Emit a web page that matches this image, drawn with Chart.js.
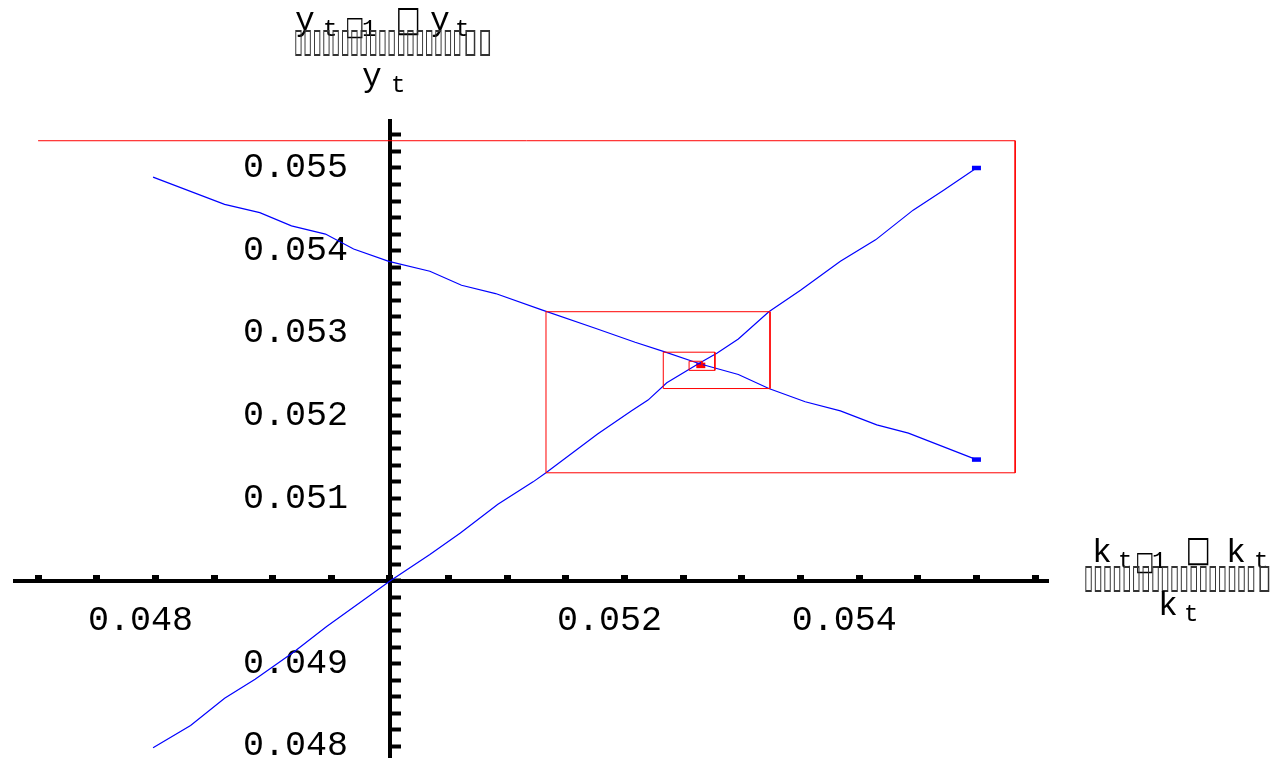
<!DOCTYPE html>
<html lang="en">
<head>
<meta charset="UTF-8">
<title>cobweb</title>
<script src="https://cdn.jsdelivr.net/npm/chart.js@4.4.1/dist/chart.umd.min.js"></script>
<style>
    html, body { margin: 0; padding: 0; background: #fff; }
    canvas { display: block; }
</style>
</head>
<body>
<canvas id="canvas" width="1271" height="767"></canvas>
<script>
// rising branch, k against y
var upK = [0.04798, 0.04830, 0.04859, 0.04885, 0.04918, 0.04946, 0.05000, 0.05034, 0.05060, 0.05092, 0.05122, 0.05133, 0.05177,
    0.05206, 0.05220, 0.05236, 0.05264, 0.05279, 0.05297, 0.05323, 0.05350, 0.05384, 0.05414, 0.05446, 0.05472, 0.05500];
var upY = [0.04798, 0.04825, 0.04858, 0.04881, 0.04914, 0.04945, 0.05000, 0.05032, 0.05058, 0.05093, 0.05120, 0.05131, 0.05178,
    0.05206, 0.05219, 0.05240, 0.05264, 0.05276, 0.05293, 0.05326, 0.05352, 0.05387, 0.05413, 0.05449, 0.05473, 0.05500];
// falling branch
var downK = [0.04798, 0.04859, 0.04889, 0.04916, 0.04945, 0.04969, 0.04999, 0.05034, 0.05061, 0.05090, 0.05130,
    0.05175, 0.05209, 0.05233, 0.05264, 0.05297, 0.05323, 0.05354, 0.05384, 0.05415, 0.05442, 0.05500];
var downY = [0.05489, 0.05456, 0.05446, 0.05430, 0.05420, 0.05402, 0.05387, 0.05375, 0.05358, 0.05348, 0.05328,
    0.05306, 0.05289, 0.05278, 0.05263, 0.05250, 0.05233, 0.05217, 0.05206, 0.05189, 0.05179, 0.05147];
// cobweb path
var webK = [0.04700, 0.05533, 0.05533, 0.05133, 0.05133, 0.05324, 0.05324, 0.05233, 0.05233, 0.05277, 0.05277,
    0.05255, 0.05255, 0.05266, 0.05266, 0.05261];
var webY = [0.05533, 0.05533, 0.05131, 0.05131, 0.05326, 0.05326, 0.05233, 0.05233, 0.05277, 0.05277, 0.05255,
    0.05255, 0.05266, 0.05266, 0.05261, 0.05261];
var endK = [0.05500, 0.05500];
var endY = [0.05500, 0.05147];
var fixK = [0.05265];
var fixY = [0.05261];
var xLabels = [0.048, 0.052, 0.054];
var yLabels = [0.048, 0.049, 0.051, 0.052, 0.053, 0.054, 0.055];

function pts(xs, ys) {
    return xs.map(function (x, i) { return {x: x, y: ys[i]}; });
}

function hasLabel(list, v) {
    return list.some(function (t) { return Math.abs(t - v) < 1e-7; });
}

var mono = 'Liberation Mono';

// stretch a string of glyphs into a box
function fitText(ctx, s, x, top, w, h, size) {
    ctx.save();
    ctx.font = size + 'px "DejaVu Sans"';
    var m = ctx.measureText(s);
    var gw = m.actualBoundingBoxLeft + m.actualBoundingBoxRight;
    var gh = m.actualBoundingBoxAscent + m.actualBoundingBoxDescent;
    ctx.translate(x, top);
    ctx.scale(w / gw, h / gh);
    ctx.textBaseline = 'alphabetic';
    ctx.textAlign = 'left';
    ctx.fillText(s, m.actualBoundingBoxLeft, m.actualBoundingBoxAscent);
    ctx.restore();
}

function txt(ctx, s, x, y, size) {
    ctx.font = size + 'px "' + mono + '"';
    ctx.textAlign = 'left';
    ctx.textBaseline = 'alphabetic';
    ctx.fillText(s, x, y);
}

function drawFrac(ctx, v, p) {
    txt(ctx, v, p.v1, p.base, 33);
    txt(ctx, 't', p.t1, p.base + 6, 24);
    fitText(ctx, '\u25A1', p.b1, p.b1Top, 16, 21, 24);
    txt(ctx, '1', p.one, p.base + 6, 24);
    fitText(ctx, '\u25A1', p.b2, p.b2Top, 21, 28, 24);
    txt(ctx, v, p.v2, p.base, 33);
    txt(ctx, 't', p.t2, p.base + 6, 24);
    ctx.fillStyle = '#333';
    fitText(ctx, '\u25AF'.repeat(18), p.rowX, p.rowTop, p.rowW - 30, 28, 26);
    fitText(ctx, '\u25AF\u25AF', p.rowX + p.rowW - 26, p.rowTop, 26, 28, 26);
    ctx.fillStyle = '#000';
    txt(ctx, v, p.v3, p.base3, 33);
    txt(ctx, 't', p.t3, p.base3 + 6, 24);
}

var axisTitles = {
    id: 'axisTitles',
    afterDraw: function (chart) {
        var ctx = chart.ctx;
        ctx.save();
        ctx.fillStyle = '#000';
        drawFrac(ctx, 'y', {v1: 295, t1: 323, b1: 347, b1Top: 17, one: 362, b2: 398, b2Top: 7, v2: 430, t2: 455,
            base: 30, rowX: 295, rowTop: 29, rowW: 196, v3: 362, t3: 391, base3: 86});
        drawFrac(ctx, 'k', {v1: 1092, t1: 1118, b1: 1137, b1Top: 552, one: 1152, b2: 1188, b2Top: 537, v2: 1226, t2: 1254,
            base: 562, rowX: 1085, rowTop: 565, rowW: 200, v3: 1158, t3: 1184, base3: 615});
        ctx.restore();
    }
};

var ctx = document.getElementById('canvas').getContext('2d');
new Chart(ctx, {
    type: 'scatter',
    data: {
        datasets: [{
            data: pts(webK, webY),
            showLine: true,
            borderColor: '#ff0000',
            borderWidth: 1,
            pointRadius: 0
        }, {
            data: pts(upK, upY),
            showLine: true,
            borderColor: '#0000ff',
            borderWidth: 1.2,
            pointRadius: 0
        }, {
            data: pts(downK, downY),
            showLine: true,
            borderColor: '#0000ff',
            borderWidth: 1.2,
            pointRadius: 0
        }, {
            data: pts(endK, endY),
            pointStyle: 'line',
            pointRadius: 4.5,
            pointBorderWidth: 4.5,
            pointBorderColor: '#0000ff'
        }, {
            data: pts(fixK, fixY),
            pointStyle: 'line',
            pointRadius: 4.5,
            pointBorderWidth: 5.5,
            pointBorderColor: '#ff0000'
        }]
    },
    options: {
        responsive: false,
        animation: false,
        events: [],
        layout: {padding: {left: 15, right: 223, top: 121, bottom: 0}},
        plugins: {legend: {display: false}, tooltip: {enabled: false}},
        scales: {
            x: {
                type: 'linear',
                min: 0.046803,
                max: 0.05561,
                position: {y: 0.05},
                afterFit: function (s) {
                    s.height = 0;
                    s.paddingLeft = s.paddingRight = s.paddingTop = s.paddingBottom = 0;
                },
                border: {display: true, color: '#000', width: 4},
                grid: {display: true, drawOnChartArea: false, drawTicks: true, tickLength: -8, tickWidth: 7, tickColor: '#000'},
                ticks: {
                    stepSize: 0.0005,
                    includeBounds: false,
                    autoSkip: false,
                    maxRotation: 0,
                    minRotation: 0,
                    padding: 27,
                    labelOffset: -15,
                    color: '#000',
                    font: {family: mono, size: 35},
                    callback: function (v) { return hasLabel(xLabels, v) ? v.toFixed(3) : ''; }
                }
            },
            y: {
                type: 'linear',
                min: 0.047869,
                max: 0.055569,
                position: {x: 0.05},
                afterFit: function (s) {
                    s.width = 0;
                    s.paddingLeft = s.paddingRight = s.paddingTop = s.paddingBottom = 0;
                },
                border: {display: true, color: '#000', width: 4},
                grid: {display: true, drawOnChartArea: false, drawTicks: true, tickLength: -13, tickWidth: 4, tickColor: '#000'},
                ticks: {
                    stepSize: 0.0002,
                    includeBounds: false,
                    autoSkip: false,
                    padding: 0,
                    color: '#000',
                    font: {family: mono, size: 35},
                    callback: function (v) { return hasLabel(yLabels, v) ? v.toFixed(3) + '  ' : ''; }
                }
            }
        }
    },
    plugins: [axisTitles]
});
</script>
</body>
</html>
